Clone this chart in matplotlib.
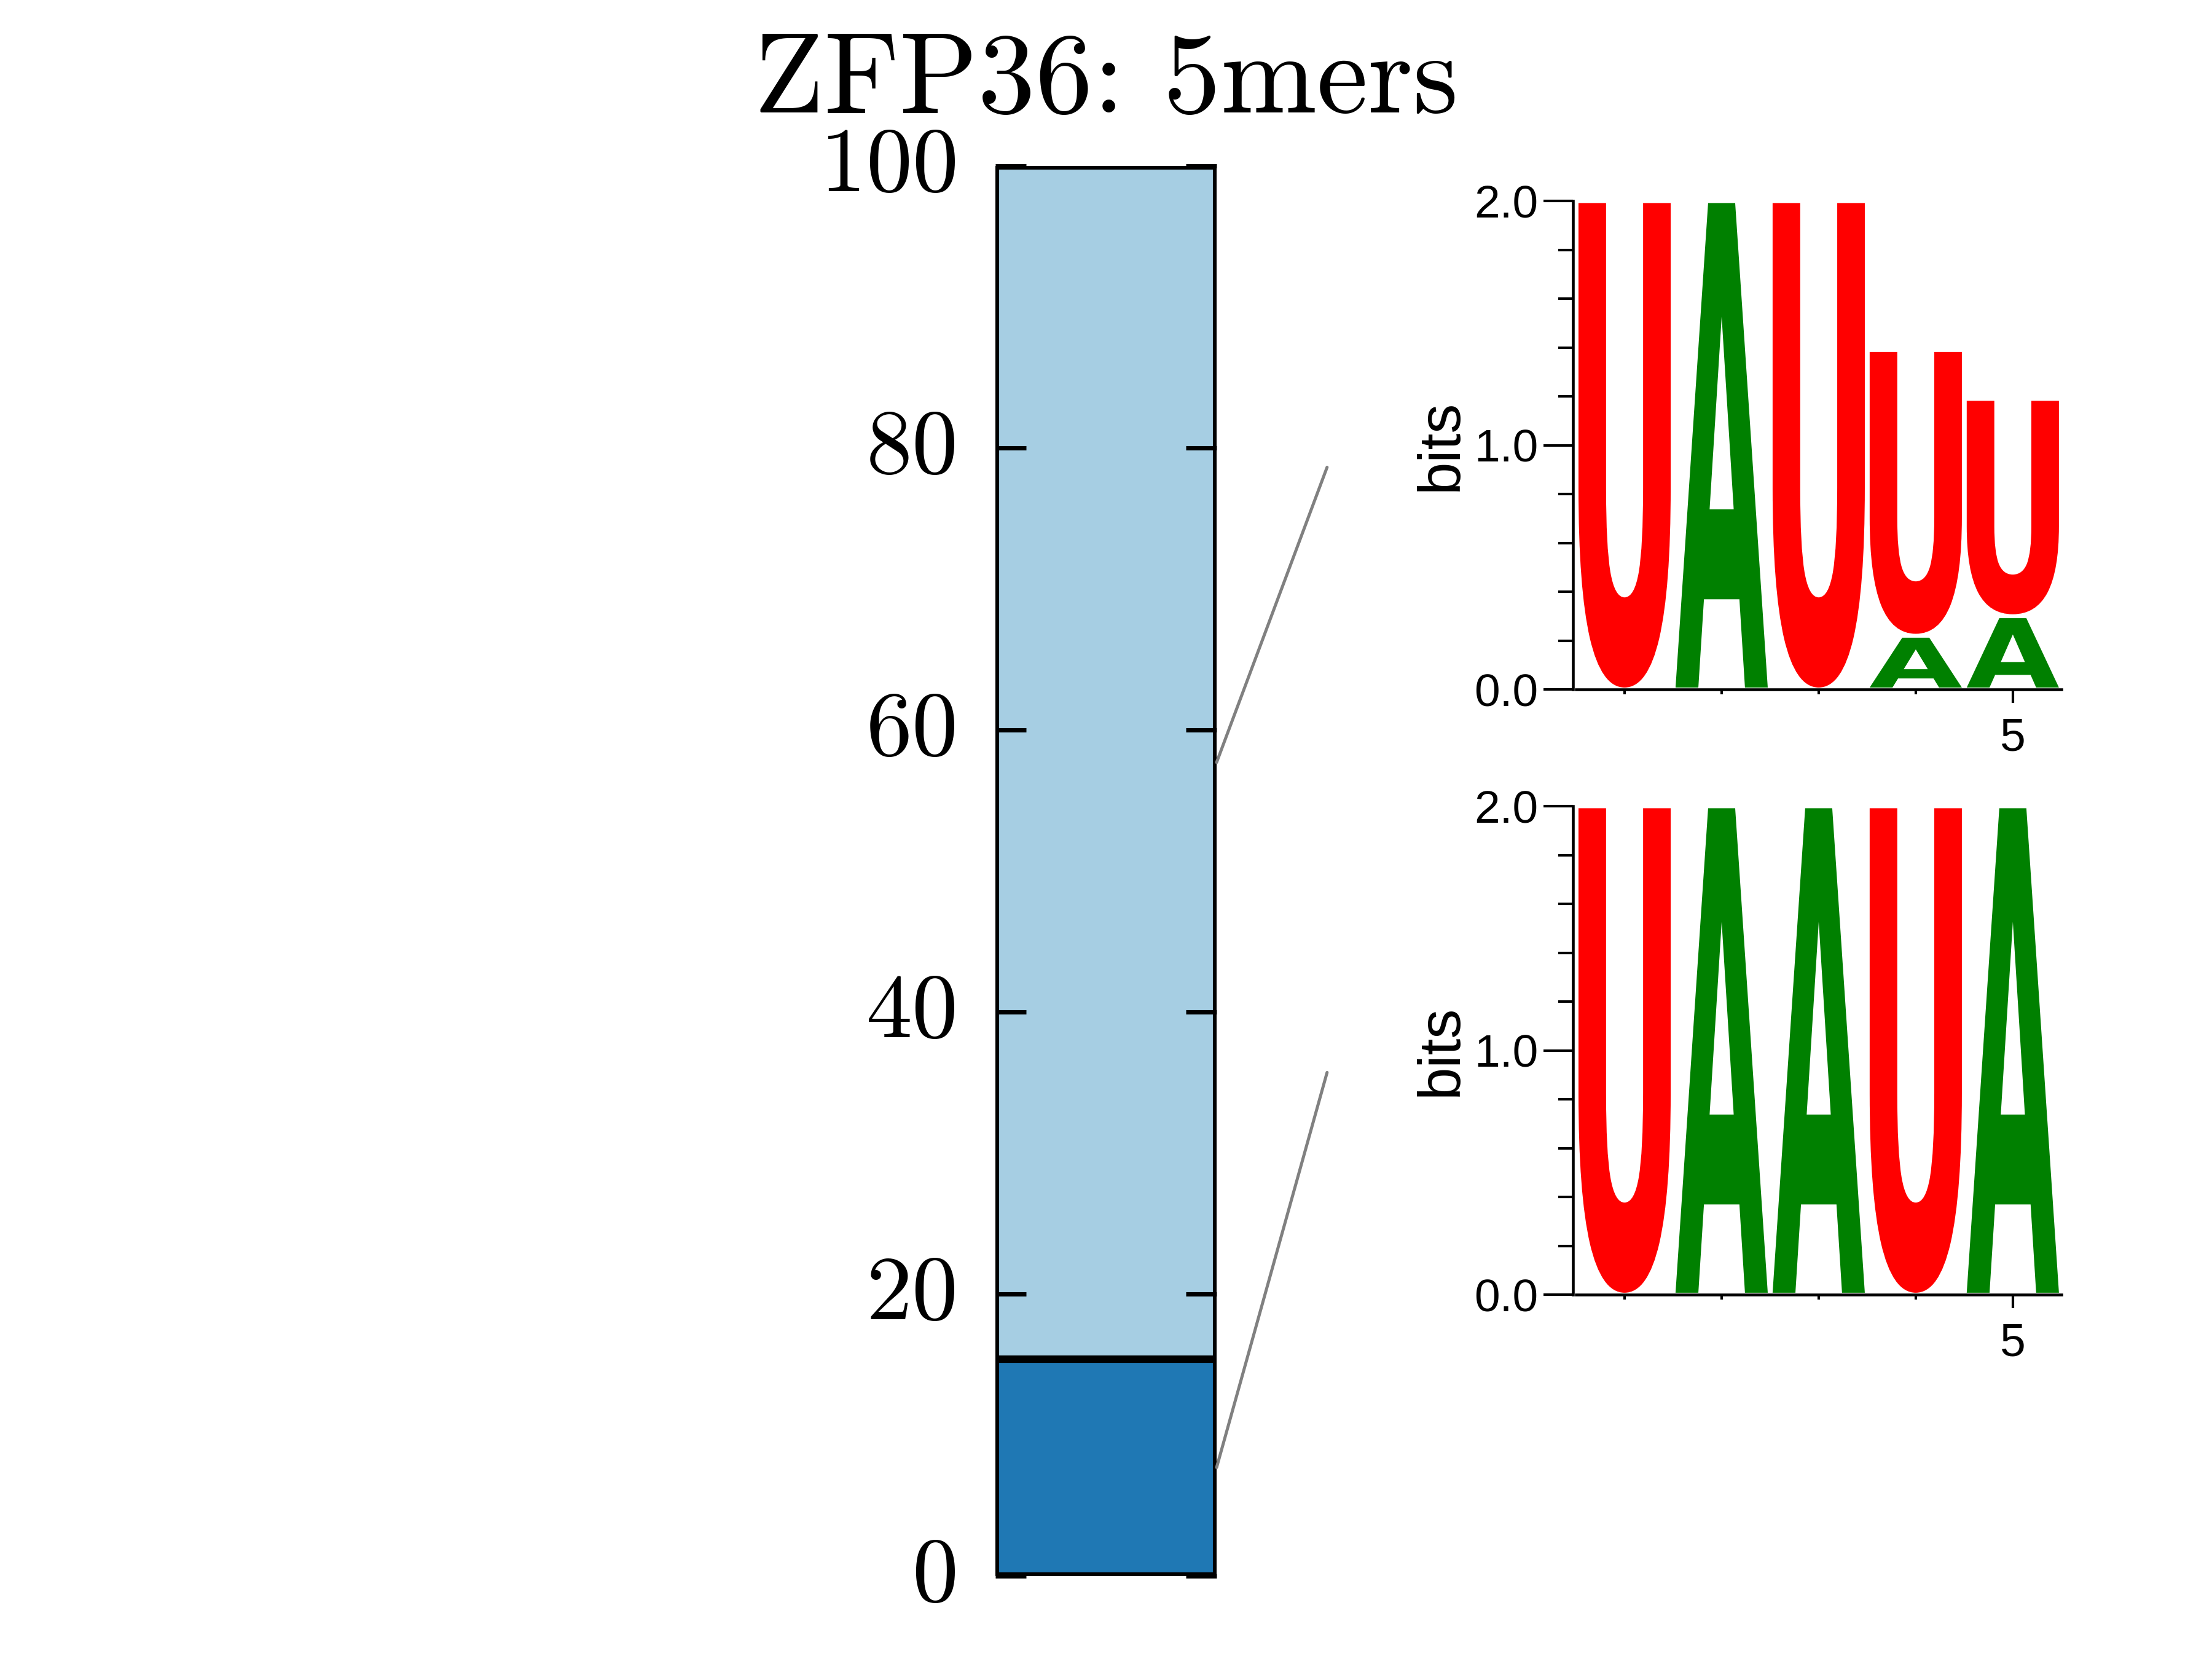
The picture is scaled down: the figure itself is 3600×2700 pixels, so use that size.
import matplotlib
matplotlib.use('Agg')
import matplotlib.pyplot as plt
from matplotlib.textpath import TextPath
from matplotlib.font_manager import FontProperties
from matplotlib.patches import PathPatch, ConnectionPatch
from matplotlib.transforms import Affine2D, ScaledTranslation
from matplotlib.ticker import FixedLocator

# ---------------- data ----------------
title = 'ZFP36: 5mers'
segment_names = ['UAAUA', 'UAUUU']          # bottom -> top
segment_pct = [15.4, 84.6]
segment_colors = ['#1f78b4', '#a6cee3']
bar_ticks = [0, 20, 40, 60, 80, 100]

positions = [1, 2, 3, 4, 5]
# logo for the top (light) segment
logo1_U = [2.0, 0.0, 2.0, 1.17, 0.89]
logo1_A = [0.0, 2.0, 0.0, 0.22, 0.30]
# logo for the bottom (dark) segment
logo2_U = [2.0, 0.0, 0.0, 2.0, 0.0]
logo2_A = [0.0, 2.0, 2.0, 0.0, 2.0]
letter_colors = {'U': '#ff0000', 'A': '#008000'}
logo_yticks = [0.0, 1.0, 2.0]
logo_yticklabels = ['0.0', '1.0', '2.0']
logo_yminor = [0.2, 0.4, 0.6, 0.8, 1.2, 1.4, 1.6, 1.8]
logo_xmajor = [5]
logo_xminor = [1, 2, 3, 4]

plt.rcParams['font.family'] = ['Liberation Sans', 'DejaVu Sans']

fig = plt.figure(figsize=(12, 9), dpi=300)

# ---------------- stacked bar ----------------
axb = fig.add_axes([0.45, 0.05, 0.10, 0.85])
bottom = 0.0
mids = []
for v, c in zip(segment_pct, segment_colors):
    axb.bar(0, v, width=1.0, bottom=bottom, color=c, edgecolor='black',
            linewidth=2.9, zorder=1)
    mids.append(bottom + v / 2.0)
    bottom += v
axb.set_xlim(-0.5, 0.5)
axb.set_ylim(0, 100)
axb.set_xticks([])
axb.set_yticks(bar_ticks, [str(t) for t in bar_ticks],
               fontfamily='cmr10', fontsize=36)
axb.tick_params(axis='y', direction='in', left=True, right=True,
                length=12, width=1.7, pad=14.5)
for s in axb.spines.values():
    s.set_visible(False)
shift = ScaledTranslation(0, 2.6 / 72, fig.dpi_scale_trans)
for tk in axb.yaxis.get_major_ticks():
    tk.label1.set_transform(tk.label1.get_transform() + shift)

fig.text(0.5, 1 - 183 / 2700, title, ha='center', va='baseline',
         fontfamily='cmr10', fontsize=45)

# ---------------- logos ----------------
gfont = FontProperties(family='DejaVu Sans', weight='bold')


def draw_glyph(ax, ch, x, floor, height, width=0.95, vpad=0.008):
    tp = TextPath((0, 0), ch, size=1, prop=gfont)
    ext = tp.get_extents()
    h = height - 2 * vpad
    t = (Affine2D().translate(-ext.x0, -ext.y0)
         .scale(width / ext.width, h / ext.height)
         .translate(x - width / 2.0, floor + vpad))
    ax.add_patch(PathPatch(t.transform_path(tp), facecolor=letter_colors[ch],
                           edgecolor='none', lw=0))


def draw_logo(ax, U, A):
    for x, u, a in zip(positions, U, A):
        stack = sorted([('U', u), ('A', a)], key=lambda p: p[1])
        floor = 0.0
        for ch, h in stack:
            if h > 0:
                draw_glyph(ax, ch, x, floor, h)
                floor += h
    ax.set_xlim(0.5, 5.5)
    ax.set_ylim(0, 2)
    for s in ['top', 'right']:
        ax.spines[s].set_visible(False)
    ax.spines['left'].set_position(('outward', 1.3))
    ax.spines['left'].set_linewidth(1.1)
    ax.spines['bottom'].set_linewidth(1.1)
    ax.set_yticks(logo_yticks, logo_yticklabels)
    ax.yaxis.set_minor_locator(FixedLocator(logo_yminor))
    ax.set_xticks(logo_xmajor, [str(t) for t in logo_xmajor])
    ax.set_xticks(logo_xminor, minor=True)
    ax.tick_params(axis='y', which='major', length=11.5, width=1.0, pad=2,
                   labelsize=18)
    ax.tick_params(axis='y', which='minor', length=5.8, width=1.0)
    ax.tick_params(axis='x', which='major', length=5.3, width=1.0, pad=5.5,
                   labelsize=18)
    ax.tick_params(axis='x', which='minor', length=2.0, width=1.0)
    ax.set_ylabel('bits', fontsize=23, labelpad=2)


lw_ = 0.7125
lh_ = 0.2944
ax1 = fig.add_axes([lw_, 0.5844, 0.2194, lh_])
ax2 = fig.add_axes([lw_, 0.2196, 0.2194, lh_])
draw_logo(ax1, logo1_U, logo1_A)
draw_logo(ax2, logo2_U, logo2_A)

# ---------------- connectors ----------------
for ax, m in [(ax1, mids[1]), (ax2, mids[0])]:
    cp = ConnectionPatch(xyA=(0.5, m), coordsA=axb.transData,
                         xyB=(-0.513, 0.455), coordsB=ax.transAxes,
                         color='#808080', lw=1.2)
    fig.add_artist(cp)

fig.savefig('out.png', dpi=300)
